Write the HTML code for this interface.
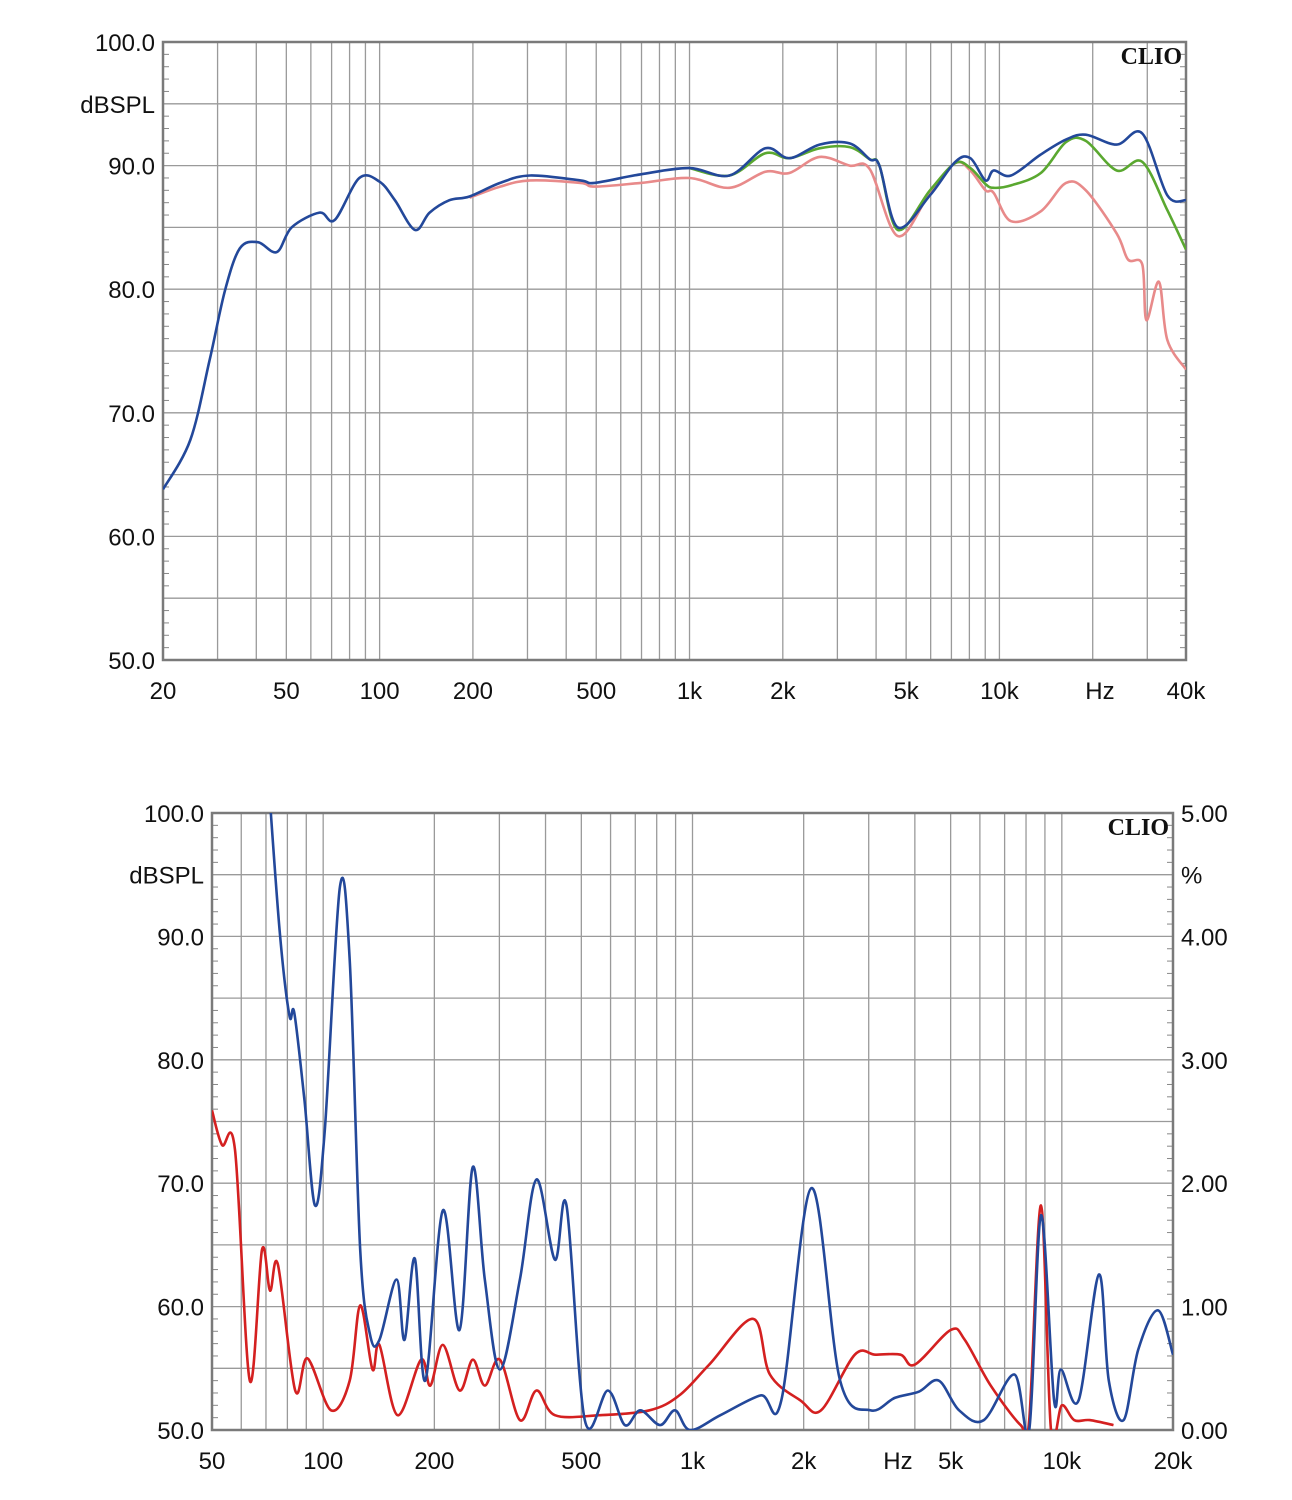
<!DOCTYPE html>
<html><head><meta charset="utf-8"><style>
body{margin:0;background:#fff;}
svg{display:block;font-family:"Liberation Sans",sans-serif;}
</style></head><body>
<svg id="s" width="1292" height="1500" viewBox="0 0 1292 1500"></svg>
<script>
// Chart 1 data
const c1Ticks = ["20","50","100","200","500","1k","2k","5k","10k","Hz","40k"];
const c1TickFreqs = [20,50,100,200,500,1000,2000,5000,10000,21100,40000];
const c1YTicks = [100,90,80,70,60,50];
const blueF = [20,24.5,28.3,31.7,35.4,40.5,46.6,52,64,71.6,86,100,112,130,145,168,195,245,306,445,494,697,1000,1346,1756,2100,2627,3285,3820,4100,4700,5970,7200,8060,9020,9580,10900,13600,16400,19000,23900,28900,34800,40000];
const blueV = [63.8,67.8,74.3,79.9,83.3,83.8,83.0,85,86.2,85.6,89,88.7,87.2,84.8,86.2,87.2,87.5,88.6,89.2,88.8,88.6,89.3,89.8,89.2,91.4,90.6,91.7,91.8,90.5,90,85,87.6,90.3,90.6,88.8,89.6,89.2,90.9,92.1,92.5,91.7,92.6,87.6,87.2];
const greenF = [1000,1346,1756,2100,2627,3285,3820,4100,4700,5970,7200,8060,9020,9580,10900,13600,16400,19000,23900,28900,34800,40000];
const greenV = [89.8,89.2,91.0,90.6,91.4,91.5,90.5,90,84.8,88,90.2,89.8,88.5,88.2,88.4,89.4,91.9,92,89.6,90.3,86.4,83.2];
const pinkF = [195,245,306,445,494,697,1000,1346,1756,2100,2627,3285,3820,4700,5970,7200,8060,9020,9580,10900,13600,16400,19000,23900,26000,28900,29800,32700,34800,40000];
const pinkV = [87.4,88.3,88.8,88.6,88.3,88.6,89,88.2,89.5,89.4,90.7,90,89.7,84.3,87.8,90.2,89.6,88,87.8,85.5,86.3,88.6,88,84.5,82.4,82,77.5,80.6,75.9,73.5];
// Chart 2 data
const c2Ticks = ["50","100","200","500","1k","2k","Hz","5k","10k","20k"];
const c2TickFreqs = [50,100,200,500,1000,2000,3600,5000,10000,20000];
const c2YTicks = [100,90,80,70,60,50];
const c2RTicks = ["5.00","4.00","3.00","2.00","1.00","0.00"];
const b2F = [71,76.2,81,83.5,89,95,101,111,118,126,134,142,158,166,177,189,211,234,254,274,301,341,378,424,456,511,590,656,722,817,897,985,1190,1530,1740,2100,2510,3030,3530,4100,4640,5270,6150,7440,8160,8780,9530,9950,11100,12600,13400,14700,16100,18200,20000];
const b2V = [103,90.5,83.6,83.8,76.7,68.2,74.3,94,88.1,64.6,57.7,57.3,62.2,57.3,63.9,54,67.8,58.1,71.3,62.2,54.9,62.2,70.3,63.8,68.2,50.8,53.2,50.4,51.6,50.4,51.6,50,51.2,52.8,52.4,69.6,54,51.6,52.6,53.1,54,51.6,50.8,54.5,50,67.4,52.4,54.9,52.4,62.6,54,50.8,56.5,59.7,56.1];
const r2F = [50,53.2,57.7,63.3,68.3,71.8,75.4,84,90.7,105,118,126,136,142,159,184,195,211,234,254,274,301,341,378,424,560,765,921,1110,1460,1620,1960,2230,2750,3130,3660,4000,5000,5460,6420,7740,8160,8780,9350,10000,10800,11900,13800];
const r2V = [75.9,73.1,72.7,54,64.6,61.3,63.4,53.2,55.8,51.6,54,60.1,54.9,56.9,51.2,55.7,53.6,56.9,53.2,55.7,53.6,55.7,50.8,53.2,51.2,51.2,51.6,52.8,55.3,59,54.5,52.4,51.6,56.1,56.1,56.1,55.3,58.1,57.3,53.6,50.4,50.8,68.2,50,52,50.8,50.8,50.4];

const NS='http://www.w3.org/2000/svg';
const svg=document.getElementById('s');
function mk(tag,attrs,parent){const e=document.createElementNS(NS,tag);for(const k in attrs)e.setAttribute(k,attrs[k]);(parent||svg).appendChild(e);return e;}
function path(pts){let d='M'+pts[0][0].toFixed(1)+','+pts[0][1].toFixed(1);
 for(let i=0;i<pts.length-1;i++){const p0=pts[i-1]||pts[i],p1=pts[i],p2=pts[i+1],p3=pts[i+2]||p2;
  d+=' C'+(p1[0]+(p2[0]-p0[0])/6).toFixed(1)+','+(p1[1]+(p2[1]-p0[1])/6).toFixed(1)+' '+(p2[0]-(p3[0]-p1[0])/6).toFixed(1)+','+(p2[1]-(p3[1]-p1[1])/6).toFixed(1)+' '+p2[0].toFixed(1)+','+p2[1].toFixed(1);}
 return d;}
function chart(cfg){
 const {x0,x1,y0,y1,fmin,fmax,name}=cfg;
 const g=mk('g',{});
 
 
 const X=f=>x0+(x1-x0)*Math.log10(f/fmin)/Math.log10(fmax/fmin);
 const Y=v=>y0+(y1-y0)*(100-v)/50;
 for(let d=1;d<=100000;d*=10)for(let m=1;m<10;m++){const f=d*m;if(f<=fmin||f>=fmax)continue;
  const l=mk('line',{x1:X(f),x2:X(f),y1:y0,y2:y1,stroke:'#9a9a9a','stroke-width':1.3},g);
  }
 for(let v=55;v<100;v+=5){const l=mk('line',{x1:x0,x2:x1,y1:Y(v),y2:Y(v),stroke:'#9a9a9a','stroke-width':1.3},g);
  }
 for(let v=51;v<100;v++){if(v%5==0)continue;mk('line',{x1:x0,x2:x0+6,y1:Y(v),y2:Y(v),stroke:'#888'},g);mk('line',{x1:x1-6,x2:x1,y1:Y(v),y2:Y(v),stroke:'#888'},g);}
 const fr=mk('rect',{x:x0,y:y0,width:x1-x0,height:y1-y0,fill:'none',stroke:'#7a7a7a','stroke-width':2.5},g);
 
 const cid='clip'+name;const cp=mk('clipPath',{id:cid},g);mk('rect',{x:x0,y:y0,width:x1-x0,height:y1-y0},cp);
 cfg.series.forEach(s=>{const pts=s.f.map((f,i)=>[X(f),Y(s.v[i])]);
  const p=mk('path',{d:path(pts),fill:'none',stroke:s.c,'stroke-width':2.6,'clip-path':'url(#'+cid+')','stroke-linejoin':'round'},g);
  });
 cfg.yt.forEach(v=>{const t=mk('text',{x:x0-8,y:Y(v)+9,'text-anchor':'end','font-size':24,fill:'#111'},g);t.textContent=v.toFixed(1);
  });
 const u=mk('text',{x:x0-8,y:Y(95)+9,'text-anchor':'end','font-size':24,fill:'#111'},g);u.textContent='dBSPL';
 
 cfg.xt.forEach((l,i)=>{const t=mk('text',{x:X(cfg.xf[i]),y:y1+39,'text-anchor':'middle','font-size':24,fill:'#111'},g);t.textContent=l;
  });
 const c=mk('text',{x:x1-4,y:y0+22,'text-anchor':'end','font-size':24,'font-weight':'bold','font-family':'Liberation Serif, serif',fill:'#111'},g);c.textContent='CLIO';
 
 if(cfg.rt){cfg.rt.forEach((l,i)=>{const t=mk('text',{x:x1+8,y:Y(100-i*10)+9,'font-size':24,fill:'#111'},g);t.textContent=l;
  });
  const p=mk('text',{x:x1+8,y:Y(95)+9,'font-size':24,fill:'#111'},g);p.textContent='%';
  }
}
chart({name:'frequency-response-chart',x0:163,x1:1186,y0:42,y1:660,fmin:20,fmax:40000,yt:c1YTicks,xt:c1Ticks,xf:c1TickFreqs,
 series:[{n:'pink-curve',f:pinkF,v:pinkV,c:'#e88a8a'},{n:'green-curve',f:greenF,v:greenV,c:'#5aa830'},{n:'blue-curve',f:blueF,v:blueV,c:'#23489a'}]});
chart({name:'distortion-chart',x0:212,x1:1173,y0:813,y1:1430,fmin:50,fmax:20000,yt:c2YTicks,xt:c2Ticks,xf:c2TickFreqs,rt:c2RTicks,
 series:[{n:'red-curve',f:r2F,v:r2V,c:'#d42020'},{n:'blue-curve',f:b2F,v:b2V,c:'#23489a'}]});
</script>
</body></html>
